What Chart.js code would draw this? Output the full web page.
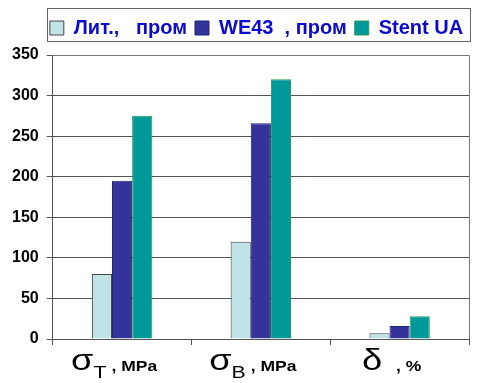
<!DOCTYPE html>
<html>
<head>
<meta charset="utf-8">
<script src="https://cdn.jsdelivr.net/npm/chart.js@4.4.0/dist/chart.umd.min.js"></script>
<style>
  html, body { margin: 0; padding: 0; background: #fff; }
  #wrap { width: 484px; height: 383px; }
</style>
</head>
<body>
<div id="wrap"><canvas id="chart" width="484" height="383"></canvas></div>
<script>
// categories: symbol, subscript, unit
const categories = ['σT', 'σB', 'δ'];
const catSymbols = ['σ', 'σ', 'δ'];
const catSubs = ['T', 'B', ''];
const catUnits = [', MPa', ', MPa', ', %'];

const seriesNames = ['Лит.,   пром', 'WE43  , пром', 'Stent UA'];
const litValues = [80, 120, 7];
const we43Values = [195, 266, 16];
const stentValues = [275, 320, 28];

const yTicks = [0, 50, 100, 150, 200, 250, 300, 350];

const colors = ['#bfe3e6', '#333399', '#009999'];
const borders = ['#444444', '#222277', '#2a9a55'];

const gridColor = '#555555';
const FONT = 'Arial, "Liberation Sans", sans-serif';
const STRETCH = 1.25; // the original labels look horizontally stretched

// frame around plot + legend box, plus the custom category labels
const decorPlugin = {
  id: 'decor',
  afterInit(chart) {
    // extra gap below the legend
    const lg = chart.legend;
    if (lg) {
      const fit = lg.fit;
      lg.fit = function () { fit.call(this); this.height += 7; };
    }
  },
  afterLayout(chart) {
    // legend is centred over the plot, not the whole canvas
    const lg = chart.legend;
    if (lg) { lg.left += 20; lg.right += 20; }
  },
  afterDraw(chart) {
    const ctx = chart.ctx;
    const a = chart.chartArea;
    ctx.save();
    ctx.strokeStyle = '#777';
    ctx.lineWidth = 1;
    ctx.beginPath();
    ctx.moveTo(a.left, Math.round(a.top) + 0.5);
    ctx.lineTo(Math.round(a.right) + 0.5, Math.round(a.top) + 0.5);
    ctx.lineTo(Math.round(a.right) + 0.5, a.bottom);
    ctx.stroke();

    // legend box
    ctx.strokeStyle = '#666';
    ctx.strokeRect(47.5, 8.5, 423, 33);

    // x labels
    const xs = chart.scales.x;
    const part = (txt, font, x, y) => {
      ctx.font = font;
      ctx.save();
      ctx.translate(x, y);
      ctx.scale(STRETCH, 1);
      ctx.fillText(txt, 0, 0);
      ctx.restore();
      return ctx.measureText(txt).width * STRETCH;
    };
    const symFont = '29px ' + FONT;
    const subFont = '17px ' + FONT;
    const unitFont = 'bold 14px ' + FONT;
    categories.forEach((c, i) => {
      const cx = xs.getPixelForValue(i);
      ctx.fillStyle = '#000';
      ctx.textBaseline = 'alphabetic';
      ctx.textAlign = 'left';
      ctx.font = symFont;
      const w1 = ctx.measureText(catSymbols[i]).width * STRETCH;
      ctx.font = subFont;
      const w2 = ctx.measureText(catSubs[i]).width * STRETCH;
      ctx.font = unitFont;
      const w3 = ctx.measureText(catUnits[i]).width * STRETCH;
      const gap = catSubs[i] ? 5 : 14;
      let x = cx - (w1 + w2 + gap + w3) / 2 - 8;
      x += part(catSymbols[i], symFont, x, 370);
      x += part(catSubs[i], subFont, x, 378);
      x += gap;
      part(catUnits[i], unitFont, x, 371);
    });
    ctx.restore();
  }
};

const chartData = {
  labels: categories,
  datasets: [
    { label: seriesNames[0], data: litValues },
    { label: seriesNames[1], data: we43Values },
    { label: seriesNames[2], data: stentValues },
  ].map((d, i) => ({
    ...d,
    backgroundColor: colors[i],
    borderColor: borders[i],
    borderWidth: 1,
    barPercentage: 1,
    categoryPercentage: 0.435,
  })),
};

const chartOptions = {
  responsive: false,
  animation: false,
  layout: { padding: { left: 4, right: 15, top: 10, bottom: 38 } },
  plugins: {
    tooltip: { enabled: false },
    legend: {
      position: 'top',
      align: 'center',
      labels: {
        color: '#0a0ad0',
        font: { family: FONT, size: 20, weight: 'bold' },
        boxWidth: 14,
        boxHeight: 14,
        padding: 8,
      },
    },
  },
  scales: {
    x: {
      grid: {
        offset: true,
        drawOnChartArea: false,
        color: gridColor,
        tickLength: 6,
      },
      border: { color: gridColor },
      ticks: { display: false },
    },
    y: {
      min: 0,
      max: 350,
      afterBuildTicks: (axis) => { axis.ticks = yTicks.map((v) => ({ value: v })); },
      grid: { color: gridColor, tickLength: 6 },
      border: { color: gridColor },
      ticks: {
        color: '#000',
        padding: 8,
        font: { family: FONT, size: 16, weight: 'bold' },
      },
    },
  },
};

new Chart(document.getElementById('chart').getContext('2d'), {
  type: 'bar',
  data: chartData,
  options: chartOptions,
  plugins: [decorPlugin],
});
</script>
</body>
</html>
